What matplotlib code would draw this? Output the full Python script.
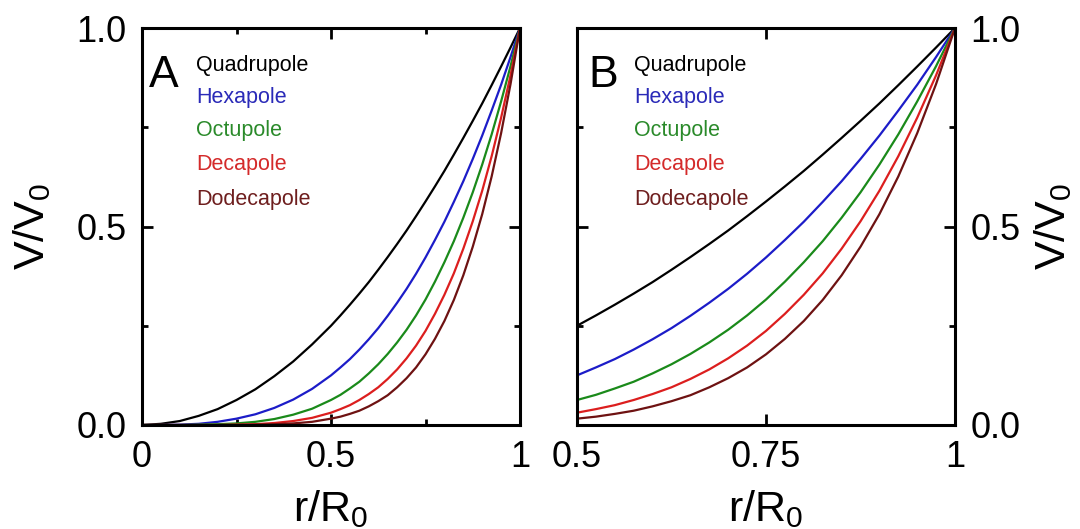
import matplotlib
matplotlib.use('Agg')
import matplotlib.pyplot as plt
from matplotlib.ticker import FixedLocator

plt.rcParams['font.family'] = ['Liberation Sans', 'DejaVu Sans']
plt.rcParams['mathtext.fontset'] = 'custom'
plt.rcParams['mathtext.rm'] = 'Liberation Sans'
plt.rcParams['mathtext.it'] = 'Liberation Sans:italic'

# Curves, panel A (full radius)
r_a = [0, 0.05, 0.1, 0.15, 0.2, 0.25, 0.3, 0.35, 0.4, 0.45,
       0.5, 0.525, 0.55, 0.575, 0.6, 0.625, 0.65, 0.675, 0.7, 0.725, 0.75,
       0.775, 0.8, 0.825, 0.85, 0.875, 0.9, 0.925, 0.95, 0.975, 1.0]
quad_a = [0, 0.003, 0.010, 0.023, 0.040, 0.063, 0.090, 0.123, 0.160, 0.203,
          0.250, 0.276, 0.303, 0.331, 0.360, 0.391, 0.423, 0.456, 0.490, 0.526, 0.563,
          0.601, 0.640, 0.681, 0.723, 0.766, 0.810, 0.856, 0.903, 0.951, 1.0]
hexa_a = [0, 0.000, 0.001, 0.003, 0.008, 0.016, 0.027, 0.043, 0.064, 0.091,
          0.125, 0.145, 0.166, 0.190, 0.216, 0.244, 0.275, 0.308, 0.343, 0.381, 0.422,
          0.466, 0.512, 0.562, 0.614, 0.670, 0.729, 0.792, 0.857, 0.927, 1.0]
octu_a = [0, 0.000, 0.000, 0.001, 0.002, 0.004, 0.008, 0.015, 0.026, 0.041,
          0.063, 0.076, 0.092, 0.109, 0.130, 0.153, 0.179, 0.208, 0.240, 0.276, 0.316,
          0.361, 0.410, 0.463, 0.522, 0.586, 0.656, 0.732, 0.815, 0.904, 1.0]
deca_a = [0, 0.000, 0.000, 0.000, 0.000, 0.001, 0.002, 0.005, 0.010, 0.018,
          0.031, 0.040, 0.050, 0.063, 0.078, 0.095, 0.116, 0.140, 0.168, 0.200, 0.237,
          0.280, 0.328, 0.382, 0.444, 0.513, 0.590, 0.677, 0.774, 0.881, 1.0]
dode_a = [0, 0.000, 0.000, 0.000, 0.000, 0.000, 0.001, 0.002, 0.004, 0.008,
          0.016, 0.021, 0.028, 0.036, 0.047, 0.060, 0.075, 0.095, 0.118, 0.145, 0.178,
          0.217, 0.262, 0.315, 0.377, 0.449, 0.531, 0.626, 0.735, 0.859, 1.0]

# Panel B (outer half)
r_b = [0.5, 0.525, 0.55, 0.575, 0.6, 0.625, 0.65, 0.675, 0.7, 0.725, 0.75,
       0.775, 0.8, 0.825, 0.85, 0.875, 0.9, 0.925, 0.95, 0.975, 1.0]
quad_b = [0.250, 0.276, 0.303, 0.331, 0.360, 0.391, 0.423, 0.456, 0.490, 0.526, 0.563,
          0.601, 0.640, 0.681, 0.723, 0.766, 0.810, 0.856, 0.903, 0.951, 1.0]
hexa_b = [0.125, 0.145, 0.166, 0.190, 0.216, 0.244, 0.275, 0.308, 0.343, 0.381, 0.422,
          0.466, 0.512, 0.562, 0.614, 0.670, 0.729, 0.792, 0.857, 0.927, 1.0]
octu_b = [0.063, 0.076, 0.092, 0.109, 0.130, 0.153, 0.179, 0.208, 0.240, 0.276, 0.316,
          0.361, 0.410, 0.463, 0.522, 0.586, 0.656, 0.732, 0.815, 0.904, 1.0]
deca_b = [0.031, 0.040, 0.050, 0.063, 0.078, 0.095, 0.116, 0.140, 0.168, 0.200, 0.237,
          0.280, 0.328, 0.382, 0.444, 0.513, 0.590, 0.677, 0.774, 0.881, 1.0]
dode_b = [0.016, 0.021, 0.028, 0.036, 0.047, 0.060, 0.075, 0.095, 0.118, 0.145, 0.178,
          0.217, 0.262, 0.315, 0.377, 0.449, 0.531, 0.626, 0.735, 0.859, 1.0]

names = ['Quadrupole', 'Hexapole', 'Octupole', 'Decapole', 'Dodecapole']
line_colors = ['#000000', '#1c1cc8', '#1a8a1a', '#dc1e1e', '#6e1212']
text_colors = ['#000000', '#2a2ab8', '#2a8a2a', '#d42a2a', '#6e1e1e']

fig = plt.figure(figsize=(10.8, 5.29), dpi=100)
axA = fig.add_axes([142 / 1080, 1 - 425 / 529, 378 / 1080, 397 / 529])
axB = fig.add_axes([577 / 1080, 1 - 425 / 529, 378 / 1080, 397 / 529])

for ys, c in zip([quad_a, hexa_a, octu_a, deca_a, dode_a], line_colors):
    axA.plot(r_a, ys, color=c, lw=1.6)
for ys, c in zip([quad_b, hexa_b, octu_b, deca_b, dode_b], line_colors):
    axB.plot(r_b, ys, color=c, lw=1.6)

axA.set_xlim(0, 1)
axB.set_xlim(0.5, 1)
for ax in (axA, axB):
    ax.set_ylim(0, 1)
    for s in ax.spines.values():
        s.set_linewidth(2.2)
    ax.tick_params(which='both', direction='in', top=True, right=True,
                   labelsize=26, width=2)
    ax.tick_params(which='major', length=8, pad=11)
    ax.tick_params(which='minor', length=4)
    ax.set_yticks([0, 0.5, 1.0])
    ax.set_yticklabels(['0.0', '0.5', '1.0'])
    ax.yaxis.set_minor_locator(FixedLocator([0.25, 0.75]))
    ax.set_xlabel('r/R$_0$', fontsize=31)
    ax.set_ylabel('V/V$_0$', fontsize=31)

axA.set_xticks([0, 0.5, 1])
axA.set_xticklabels(['0', '0.5', '1'])
axA.xaxis.set_minor_locator(FixedLocator([0.25, 0.75]))
axB.set_xticks([0.5, 0.75, 1])
axB.set_xticklabels(['0.5', '0.75', '1'])

axB.yaxis.tick_right()
axB.yaxis.set_label_position('right')
axB.tick_params(which='both', left=True)

axA.yaxis.set_label_coords(-0.236, 0.5)
axB.yaxis.set_label_coords(1.205, 0.5)
axA.xaxis.set_label_coords(0.5, -0.16)
axB.xaxis.set_label_coords(0.5, -0.16)

# panel letters and colour key
axA.text(7 / 378, 1 - 47 / 397, 'A', transform=axA.transAxes, fontsize=32,
         va='center', ha='left')
axB.text(11 / 378, 1 - 47 / 397, 'B', transform=axB.transAxes, fontsize=32,
         va='center', ha='left')
label_y = [65, 97, 130, 164, 199]
for ax, x0 in ((axA, 54), (axB, 57)):
    for name, c, yp in zip(names, text_colors, label_y):
        ax.text(x0 / 378, 1 - (yp - 28) / 397, name, transform=ax.transAxes,
                fontsize=15.5, color=c, va='center', ha='left')

fig.savefig('out.png', dpi=100)
